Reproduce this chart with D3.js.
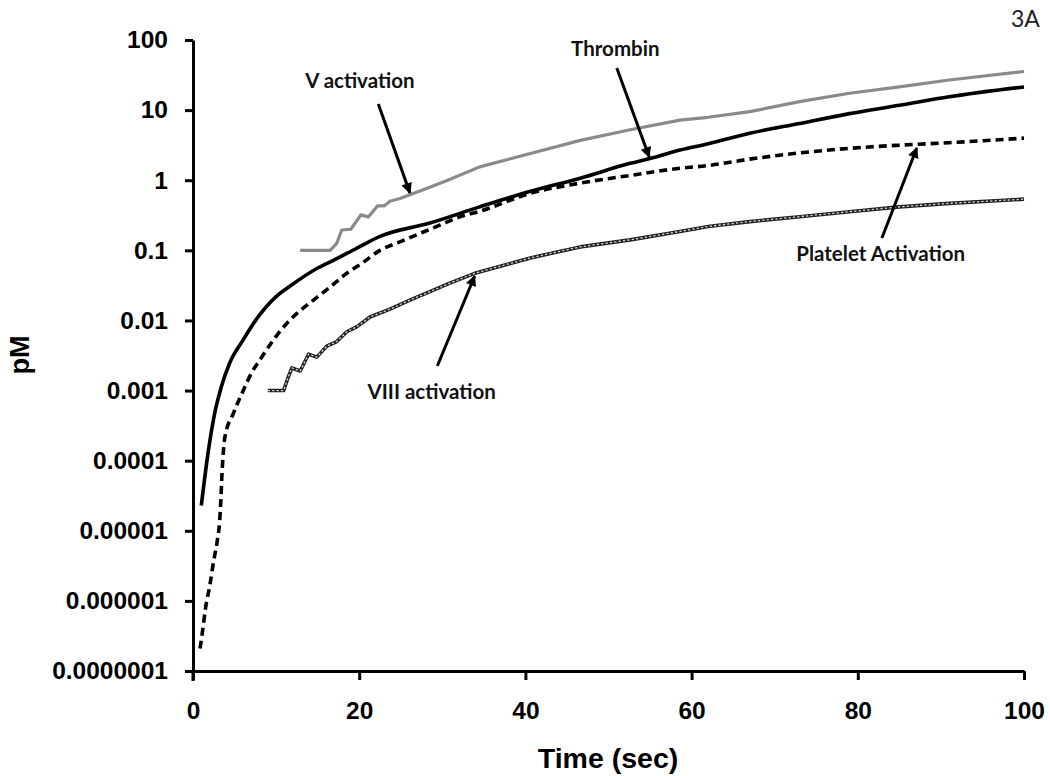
<!DOCTYPE html>
<html>
<head>
<meta charset="utf-8">
<script src="https://cdn.jsdelivr.net/npm/d3@7"></script>
<style>
  html, body { margin: 0; padding: 0; background: #fff; }
  svg { display: block; }
</style>
</head>
<body>
<svg id="chart" width="1050" height="776"></svg>
<script>
// ---------- data (time in sec, concentration in pM) ----------
const yTickValues = [1e-7, 1e-6, 1e-5, 1e-4, 1e-3, 1e-2, 0.1, 1, 10, 100];
const yTickLabels = ["0.0000001", "0.000001", "0.00001", "0.0001", "0.001", "0.01", "0.1", "1", "10", "100"];
const xTickValues = [0, 20, 40, 60, 80, 100];

const thrombinTime  = [1.0, 1.8, 2.6, 3.4, 4.4, 6.0, 7.7, 10.0, 11.7, 14.9, 16.9, 19.7, 22.5, 28.5, 34.5, 40.5, 46.6, 52.6, 55.0, 58.6, 62.0, 67.0, 73.0, 79.0, 85.0, 91.0, 100];
const thrombinValue = [2.3e-5, 1.26e-4, 4.7e-4, 1.12e-3, 2.45e-3, 5.2e-3, 0.0107, 0.0219, 0.031, 0.055, 0.072, 0.107, 0.158, 0.245, 0.417, 0.69, 1.07, 1.74, 2.04, 2.69, 3.31, 4.68, 6.46, 8.91, 11.7, 15.5, 21.4];

const vTime  = [12.9, 16.5, 17.3, 17.9, 19.0, 20.2, 21.1, 22.2, 23.0, 23.7, 24.9, 26.1, 28.1, 30.5, 34.5, 40.6, 46.6, 52.6, 58.6, 62.0, 67.0, 73.0, 79.0, 85.0, 91.0, 100];
const vValue = [0.1, 0.1, 0.126, 0.195, 0.2, 0.32, 0.30, 0.43, 0.43, 0.50, 0.55, 0.62, 0.76, 0.98, 1.55, 2.4, 3.7, 5.25, 7.2, 7.9, 9.5, 13.2, 17.4, 21.4, 26.9, 35.5];

const plateletTime  = [0.85, 1.2, 1.5, 2.0, 2.5, 2.9, 3.2, 3.35, 3.45, 3.85, 4.85, 6.05, 7.06, 8.06, 9.27, 10.3, 11.3, 12.5, 14.5, 16.5, 18.5, 20.3, 22.5, 24.9, 27.3, 29.7, 32.1, 34.5, 40.6, 46.6, 52.6, 58.6, 62.0, 67.0, 73.0, 79.0, 85.0, 91.0, 100];
const plateletValue = [2.1e-7, 4.1e-7, 7.8e-7, 1.6e-6, 3.8e-6, 6.9e-6, 1.35e-5, 2.7e-5, 5.2e-5, 2.2e-4, 4.7e-4, 1.0e-3, 1.8e-3, 2.75e-3, 4.5e-3, 6.6e-3, 9.1e-3, 0.0126, 0.0195, 0.030, 0.047, 0.065, 0.10, 0.132, 0.174, 0.229, 0.30, 0.36, 0.65, 0.91, 1.17, 1.48, 1.62, 2.0, 2.45, 2.85, 3.16, 3.43, 3.98];

const viiiTime  = [9.0, 10.9, 11.5, 11.9, 12.9, 13.9, 14.9, 16.1, 17.3, 18.5, 19.7, 21.3, 23.7, 26.1, 28.5, 30.9, 33.9, 40.6, 46.6, 52.6, 58.6, 62.0, 67.0, 73.0, 79.0, 85.0, 91.0, 100];
const viiiValue = [0.001, 0.001, 0.0016, 0.0021, 0.0019, 0.0033, 0.0030, 0.0043, 0.0050, 0.0069, 0.0081, 0.0112, 0.0145, 0.0195, 0.0257, 0.034, 0.047, 0.078, 0.112, 0.141, 0.186, 0.219, 0.257, 0.302, 0.355, 0.417, 0.468, 0.537];

// annotations: label text, label anchor (time, pM), arrow tail and tip (time, pM)
const annotLabels  = ["V activation", "Thrombin", "Platelet Activation", "VIII activation"];
const annotLabelAt = [[13.5, 20.5], [45.5, 60], [72.6, 0.07], [21.0, 0.00075]];
const arrowTail    = [[22.3, 12.2], [51.0, 40], [82.9, 0.15], [29.4, 0.00224]];
const arrowTip     = [[26.1, 0.66], [54.9, 2.14], [87.1, 2.88], [33.9, 0.043]];

// ---------- scales ----------
const svg = d3.select("#chart");
const x = d3.scaleLinear().domain([0, 100]).range([193, 1024]);
const y = d3.scaleLog().domain([1e-7, 100]).range([671, 40]);

const tickFont = "'Liberation Sans', Arial, sans-serif";
const noteFont = "Lato, 'Open Sans', sans-serif";

// ---------- axes ----------
const yAxis = d3.axisLeft(y).tickValues(yTickValues)
  .tickFormat((d, i) => yTickLabels[i]).tickSize(8).tickSizeOuter(0).tickPadding(17);
const yG = svg.append("g").attr("transform", `translate(${x(0)},0)`).call(yAxis);

const xAxis = d3.axisBottom(x).tickValues(xTickValues)
  .tickFormat(d3.format("d")).tickSize(9).tickSizeOuter(0).tickPadding(22);
const xG = svg.append("g").attr("transform", `translate(0,${y(1e-7)})`).call(xAxis);

[yG, xG].forEach(g => {
  g.select(".domain").attr("stroke", "#000").attr("stroke-width", 3);
  g.selectAll(".tick line").attr("stroke", "#000").attr("stroke-width", 3);
  g.selectAll(".tick text")
    .attr("fill", "#000")
    .style("font-family", tickFont)
    .style("font-weight", "bold")
    .style("font-size", "24.5px");
});
// y axis extends slightly below the x axis
svg.append("line")
  .attr("x1", x(0)).attr("x2", x(0))
  .attr("y1", y(1e-7)).attr("y2", y(1e-7) + 10)
  .attr("stroke", "#000").attr("stroke-width", 3);

// axis titles
svg.append("text")
  .attr("transform", `translate(29,355) rotate(-90)`)
  .attr("text-anchor", "middle")
  .style("font-family", tickFont).style("font-weight", "bold").style("font-size", "27px")
  .text("pM");
svg.append("text")
  .attr("x", 608).attr("y", 768)
  .attr("text-anchor", "middle")
  .style("font-family", tickFont).style("font-weight", "bold").style("font-size", "28.5px")
  .text("Time (sec)");

svg.append("text")
  .attr("x", 1011).attr("y", 27)
  .style("font-family", noteFont).style("font-size", "23px")
  .attr("fill", "#222")
  .text("3A");

// ---------- lines ----------
const line = d3.line().x(d => x(d[0])).y(d => y(d[1]));
const smooth = d3.line().x(d => x(d[0])).y(d => y(d[1])).curve(d3.curveMonotoneX);
const zip = (a, b) => a.map((v, i) => [v, b[i]]);

// V activation (gray)
svg.append("path").datum(zip(vTime, vValue))
  .attr("d", line).attr("fill", "none")
  .attr("stroke", "#8a8a8a").attr("stroke-width", 3.2).attr("stroke-linejoin", "round");

// VIII activation (chain of small circles)
const viiiData = zip(viiiTime, viiiValue);
svg.append("path").datum(viiiData)
  .attr("d", line).attr("fill", "none")
  .attr("stroke", "#222").attr("stroke-width", 3.6).attr("stroke-linejoin", "round");
svg.append("path").datum(viiiData)
  .attr("d", line).attr("fill", "none")
  .attr("stroke", "#d8d8d8").attr("stroke-width", 1.3).attr("stroke-dasharray", "2.2,2.2");

// Platelet activation (dashed)
svg.append("path").datum(zip(plateletTime, plateletValue))
  .attr("d", smooth).attr("fill", "none")
  .attr("stroke", "#000").attr("stroke-width", 3.6).attr("stroke-dasharray", "8,5");

// Thrombin (solid black)
svg.append("path").datum(zip(thrombinTime, thrombinValue))
  .attr("d", smooth).attr("fill", "none")
  .attr("stroke", "#000").attr("stroke-width", 3.6).attr("stroke-linejoin", "round");

// ---------- annotations ----------
svg.append("defs").append("marker")
  .attr("id", "arrowhead").attr("viewBox", "0 0 10 10")
  .attr("refX", 9).attr("refY", 5)
  .attr("markerWidth", 4.2).attr("markerHeight", 3.6)
  .attr("markerUnits", "strokeWidth")
  .attr("orient", "auto")
  .append("path").attr("d", "M0,0 L10,5 L0,10 Z").attr("fill", "#000");

annotLabels.forEach((lab, i) => {
  svg.append("line")
    .attr("x1", x(arrowTail[i][0])).attr("y1", y(arrowTail[i][1]))
    .attr("x2", x(arrowTip[i][0])).attr("y2", y(arrowTip[i][1]))
    .attr("stroke", "#000").attr("stroke-width", 3)
    .attr("marker-end", "url(#arrowhead)");
  svg.append("text")
    .attr("x", x(annotLabelAt[i][0])).attr("y", y(annotLabelAt[i][1]))
    .style("font-family", noteFont)
    .style("font-weight", "bold").style("font-size", "20.5px")
    .attr("fill", "#111")
    .text(lab);
});
</script>
</body>
</html>
